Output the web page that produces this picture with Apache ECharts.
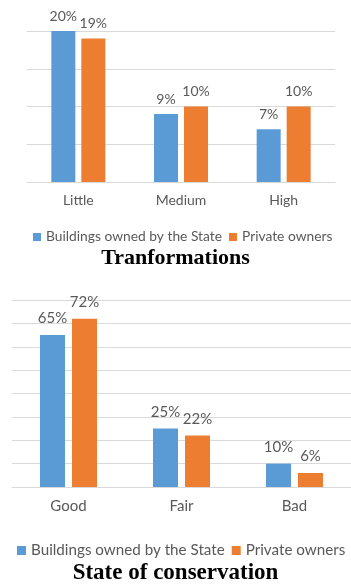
<!DOCTYPE html>
<html><head><meta charset="utf-8">
<script src="https://cdn.jsdelivr.net/npm/echarts@6/dist/echarts.min.js"></script>
<style>html,body{margin:0;padding:0;background:#fff}#c{width:351px;height:586px}</style>
</head><body><div id="c"></div>
<script>
const seriesNames = ['Buildings owned by the State', 'Private owners'];
const catsTransform = ['Little', 'Medium', 'High'];
const stateTransform = [20, 9, 7];
const privateTransform = [19, 10, 10];
const catsConservation = ['Good', 'Fair', 'Bad'];
const stateConservation = [65, 25, 10];
const privateConservation = [72, 22, 6];
const title1 = 'Tranformations';
const title2 = 'State of conservation';

const BLUE = '#5B9BD5', ORANGE = '#ED7D31', GRID = '#D9D9D9', TXT = '#595959';
const FONT = 'Lato';

function lbl(size, dist) {
  return {show: true, position: 'top', distance: dist, color: TXT, fontFamily: FONT, fontSize: size,
    formatter: p => p.value + '%'};
}
function bar(name, data, color, idx, size, dist, bw, gap) {
  return {type: 'bar', name: name, data: data, xAxisIndex: idx, yAxisIndex: idx,
    barWidth: bw, barGap: gap, itemStyle: {color: color}, label: lbl(size, dist), silent: true};
}
function xa(idx, cats, size, margin) {
  return {type: 'category', gridIndex: idx, data: cats,
    axisLine: {lineStyle: {color: GRID}}, axisTick: {show: false},
    axisLabel: {color: TXT, fontFamily: FONT, fontSize: size, margin: margin}};
}
function ya(idx, max, interval) {
  return {type: 'value', gridIndex: idx, min: 0, max: max, interval: interval,
    axisLabel: {show: false}, axisLine: {show: false}, axisTick: {show: false},
    splitLine: {lineStyle: {color: GRID}}};
}

const chart = echarts.init(document.getElementById('c'));
chart.setOption({
  animation: false,
  color: [BLUE, ORANGE],
  grid: [
    {left: 27, right: 16, top: 31, height: 151},
    {left: 12, right: 0, top: 300, height: 187}
  ],
  xAxis: [xa(0, catsTransform, 14, 11), xa(1, catsConservation, 15, 12)],
  yAxis: [ya(0, 20, 5), ya(1, 80, 10)],
  series: [
    bar(seriesNames[0], stateTransform, BLUE, 0, 14, 8, 24, '25%'),
    bar(seriesNames[1], privateTransform, ORANGE, 0, 14, 8, 24, '25%'),
    bar(seriesNames[0], stateConservation, BLUE, 1, 15, 9, 25, '28%'),
    bar(seriesNames[1], privateConservation, ORANGE, 1, 15, 9, 25, '28%')
  ],
  legend: [
    {data: seriesNames, left: 33, width: 318, top: 230, padding: 0, itemWidth: 8, itemHeight: 8, itemGap: 7, icon: 'rect',
      textStyle: {color: TXT, fontFamily: FONT, fontSize: 13.8}, selectedMode: false},
    {data: seriesNames, left: 17, width: 334, top: 543, padding: 0, itemWidth: 9, itemHeight: 9, itemGap: 7, icon: 'rect',
      textStyle: {color: TXT, fontFamily: FONT, fontSize: 15.2}, selectedMode: false}
  ],
  title: [
    {text: title1, left: 'center', top: 247, padding: 0,
      textStyle: {fontFamily: 'Liberation Serif', fontWeight: 'bold', fontSize: 22, color: '#000'}},
    {text: title2, left: 'center', top: 562, padding: 0,
      textStyle: {fontFamily: 'Liberation Serif', fontWeight: 'bold', fontSize: 23, color: '#000'}}
  ]
});
</script></body></html>
